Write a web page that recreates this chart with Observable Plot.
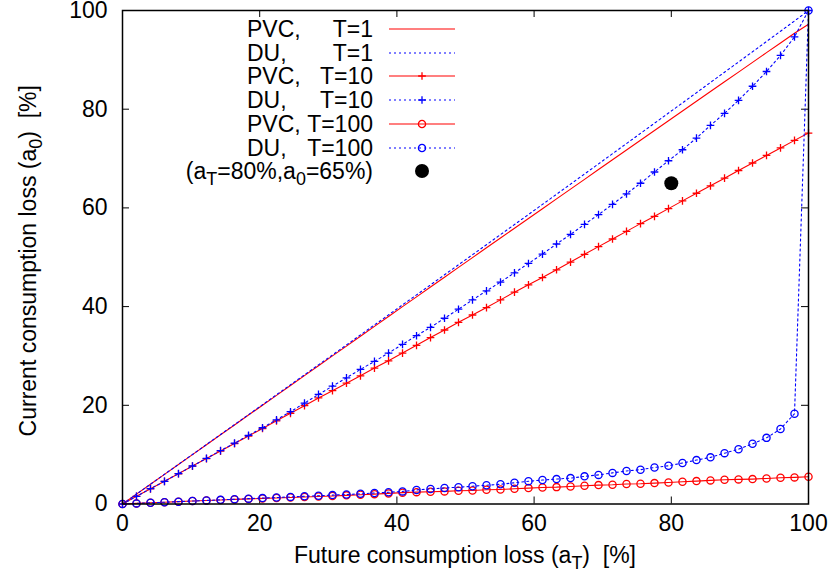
<!DOCTYPE html>
<html><head><meta charset="utf-8">
<script src="https://cdn.jsdelivr.net/npm/d3@7"></script>
<script src="https://cdn.jsdelivr.net/npm/@observablehq/plot@0.6"></script>
<style>
body{margin:0;background:#fff;}
#chart svg{font-family:"Liberation Sans",Arial,sans-serif;}
</style></head><body><div id="chart"></div>
<script>
// ---- data ----
const aT = [0, 2.04, 4.08, 6.12, 8.16, 10.2, 12.24, 14.29, 16.33, 18.37, 20.41, 22.45, 24.49, 26.53, 28.57, 30.61, 32.65, 34.69, 36.73, 38.78, 40.82, 42.86, 44.9, 46.94, 48.98, 51.02, 53.06, 55.1, 57.14, 59.18, 61.22, 63.27, 65.31, 67.35, 69.39, 71.43, 73.47, 75.51, 77.55, 79.59, 81.63, 83.67, 85.71, 87.76, 89.8, 91.84, 93.88, 95.92, 97.96, 100];
const pvcT1 = [0, 2.0, 4.0, 6.0, 8.0, 10.0, 12.0, 14.02, 16.02, 18.02, 20.02, 22.02, 24.02, 26.02, 28.02, 30.01, 32.0, 34.0, 36.0, 38.0, 40.0, 41.98, 43.97, 45.96, 47.94, 49.93, 51.91, 53.89, 55.88, 57.85, 59.84, 61.82, 63.8, 65.79, 67.77, 69.75, 71.73, 73.71, 75.69, 77.66, 79.63, 81.6, 83.58, 85.56, 87.52, 89.49, 91.46, 93.42, 95.38, 97.2];
const duT1 = [0, 2.0, 4.01, 6.02, 8.03, 10.04, 12.05, 14.08, 16.09, 18.1, 20.12, 22.14, 24.16, 26.18, 28.2, 30.21, 32.23, 34.26, 36.29, 38.32, 40.35, 42.37, 44.4, 46.44, 48.47, 50.51, 52.54, 54.58, 56.63, 58.66, 60.71, 62.76, 64.81, 66.87, 68.92, 70.98, 73.04, 75.1, 77.16, 79.22, 81.28, 83.34, 85.42, 87.5, 89.56, 91.64, 93.72, 95.8, 97.88, 100];
const pvcT10 = [0, 1.55, 3.08, 4.6, 6.13, 7.68, 9.2, 10.73, 12.25, 13.78, 15.3, 16.85, 18.37, 19.93, 21.5, 22.97, 24.49, 25.98, 27.54, 29.02, 30.59, 32.15, 33.72, 35.26, 36.82, 38.3, 39.8, 41.36, 42.93, 44.41, 45.89, 47.46, 49.02, 50.6, 52.15, 53.7, 55.24, 56.81, 58.29, 59.85, 61.42, 62.97, 64.47, 66.02, 67.58, 69.1, 70.63, 72.15, 73.68, 75.16];
const duT10 = [0, 1.55, 3.1, 4.6, 6.15, 7.7, 9.25, 10.8, 12.35, 13.9, 15.45, 17.05, 18.7, 20.45, 22.2, 23.88, 25.57, 27.28, 28.9, 30.59, 32.36, 34.1, 35.8, 37.64, 39.47, 41.36, 43.19, 44.96, 46.85, 48.74, 50.65, 52.68, 54.63, 56.67, 58.64, 60.73, 62.85, 65.0, 67.27, 69.55, 71.78, 74.15, 76.73, 79.17, 81.8, 84.65, 87.64, 90.9, 94.67, 100];
const pvcT100 = [0, 0.12, 0.24, 0.36, 0.48, 0.6, 0.71, 0.82, 0.93, 1.03, 1.13, 1.23, 1.33, 1.43, 1.53, 1.63, 1.75, 1.88, 2.0, 2.15, 2.3, 2.4, 2.47, 2.55, 2.68, 2.75, 2.88, 2.95, 3.08, 3.22, 3.35, 3.42, 3.56, 3.69, 3.83, 3.9, 4.04, 4.1, 4.24, 4.37, 4.5, 4.64, 4.78, 4.9, 4.98, 5.05, 5.18, 5.32, 5.39, 5.52];
const duT100 = [0, 0.12, 0.24, 0.36, 0.48, 0.6, 0.72, 0.84, 0.96, 1.08, 1.2, 1.32, 1.44, 1.56, 1.68, 1.8, 1.93, 2.07, 2.22, 2.38, 2.55, 2.85, 3.05, 3.25, 3.4, 3.6, 3.8, 4.0, 4.3, 4.6, 4.85, 5.05, 5.25, 5.6, 5.9, 6.3, 6.7, 6.95, 7.4, 7.75, 8.3, 8.9, 9.45, 10.3, 11.1, 12.2, 13.4, 15.2, 18.3, 100];
const pointX = [80];
const pointY = [65];
const xTicks = [0, 20, 40, 60, 80, 100];
const yTicks = [0, 20, 40, 60, 80, 100];
const legendPrefix = ["PVC,", "DU,", "PVC,", "DU,", "PVC,", "DU,"];
const legendSuffix = ["T=1", "T=1", "T=10", "T=10", "T=100", "T=100"];

// ---- layout / style ----
const W = 833, H = 583;
const M = {top: 10, right: 25, bottom: 79.5, left: 122};
const FW = W - M.left - M.right;
const FH = H - M.top - M.bottom;
const TICK = 7;
const FONT = 23;
const RED = "#ff0000", BLUE = "#0000ff";
const DOT = "2,3";
const R_PLUS = 2.6, R_CIRC = 3.6;
const MSW = 1.3;
const inner = d => d > 0 && d < 100;
const rows = vals => aT.map((x, i) => ({x, y: vals[i]}));

const series = [
  {vals: pvcT1, color: RED, dash: null, symbol: null},
  {vals: duT1, color: BLUE, dash: DOT, symbol: null},
  {vals: pvcT10, color: RED, dash: null, symbol: "plus"},
  {vals: duT10, color: BLUE, dash: DOT, symbol: "plus"},
  {vals: pvcT100, color: RED, dash: null, symbol: "circle"},
  {vals: duT100, color: BLUE, dash: DOT, symbol: "circle"}
];

const seriesMarks = [];
for (const s of series) {
  const data = rows(s.vals);
  seriesMarks.push(Plot.line(data, {x: "x", y: "y", stroke: s.color, strokeWidth: 1.1, strokeDasharray: s.dash}));
  if (s.symbol) {
    seriesMarks.push(Plot.dot(data, {x: "x", y: "y", symbol: s.symbol, r: s.symbol === "plus" ? R_PLUS : R_CIRC,
      stroke: s.color, fill: "none", strokeWidth: MSW}));
  }
}

const plot = Plot.plot({
  width: W, height: H,
  marginTop: M.top, marginRight: M.right, marginBottom: M.bottom, marginLeft: M.left,
  style: {fontFamily: "'Liberation Sans', Arial, sans-serif", fontSize: FONT + "px", background: "white", color: "black", overflow: "visible"},
  x: {domain: [0, 100]},
  y: {domain: [0, 100]},
  marks: [
    Plot.axisX(xTicks, {tickSize: 0, tickPadding: 11, label: null, fontSize: FONT}),
    Plot.axisY(yTicks, {tickSize: 0, tickPadding: 15, label: null, fontSize: FONT}),
    Plot.tickX(xTicks.filter(inner), {x: d => d, insetTop: FH - TICK, stroke: "black"}),
    Plot.tickX(xTicks.filter(inner), {x: d => d, insetBottom: FH - TICK, stroke: "black"}),
    Plot.tickY(yTicks.filter(inner), {y: d => d, insetRight: FW - TICK, stroke: "black"}),
    Plot.tickY(yTicks.filter(inner), {y: d => d, insetLeft: FW - TICK, stroke: "black"}),
    ...seriesMarks,
    Plot.dot(pointX.map((x, i) => ({x, y: pointY[i]})), {x: "x", y: "y", r: 7, fill: "black"}),
    Plot.frame({stroke: "black", strokeWidth: 1.5})
  ]
});
document.getElementById("chart").appendChild(plot);

// ---- titles and legend ----
const svg = d3.select(plot);
const xt = svg.append("text").attr("x", M.left + FW / 2).attr("y", 563)
  .attr("text-anchor", "middle").attr("font-size", FONT).attr("xml:space", "preserve").style("white-space", "pre");
xt.append("tspan").text("Future consumption loss (a");
xt.append("tspan").attr("font-size", FONT * 0.78).attr("dy", 6).text("T");
xt.append("tspan").attr("dy", -6).text(")  [%]");

const yt = svg.append("text").attr("transform", `translate(36,${M.top + FH / 2 + 4}) rotate(-90)`)
  .attr("text-anchor", "middle").attr("font-size", FONT).attr("xml:space", "preserve").style("white-space", "pre");
yt.append("tspan").text("Current consumption loss (a");
yt.append("tspan").attr("font-size", FONT * 0.78).attr("dy", 6).text("0");
yt.append("tspan").attr("dy", -6).text(")  [%]");

const leg = svg.append("g").attr("font-size", FONT);
const rowY = i => Math.round(29 + i * 23.7);
const LX1 = 389, LX2 = 455, LXC = 422, TXL = 247, TXR = 373;
series.forEach((s, i) => {
  const y = rowY(i);
  leg.append("text").attr("x", TXL).attr("y", y + 8).attr("text-anchor", "start").text(legendPrefix[i]);
  leg.append("text").attr("x", TXR).attr("y", y + 8).attr("text-anchor", "end").text(legendSuffix[i]);
  leg.append("line").attr("x1", LX1).attr("x2", LX2).attr("y1", y).attr("y2", y)
    .attr("stroke", s.color).attr("stroke-width", 1.2).attr("stroke-dasharray", s.dash);
  if (s.symbol) {
    const r = s.symbol === "plus" ? R_PLUS : R_CIRC;
    const type = s.symbol === "plus" ? d3.symbolPlus : d3.symbolCircle;
    leg.append("path").attr("d", d3.symbol(type, Math.PI * r * r)())
      .attr("transform", `translate(${LXC},${y})`).attr("fill", "none").attr("stroke", s.color).attr("stroke-width", MSW);
  }
});
{
  const y = rowY(6);
  const t = leg.append("text").attr("x", TXR).attr("y", y + 8).attr("text-anchor", "end");
  t.append("tspan").text("(a");
  t.append("tspan").attr("font-size", FONT * 0.78).attr("dy", 6).text("T");
  t.append("tspan").attr("dy", -6).text(`=${pointX[0]}%,a`);
  t.append("tspan").attr("font-size", FONT * 0.78).attr("dy", 6).text("0");
  t.append("tspan").attr("dy", -6).text(`=${pointY[0]}%)`);
  leg.append("circle").attr("cx", LXC).attr("cy", y).attr("r", 7).attr("fill", "black");
}
</script></body></html>
